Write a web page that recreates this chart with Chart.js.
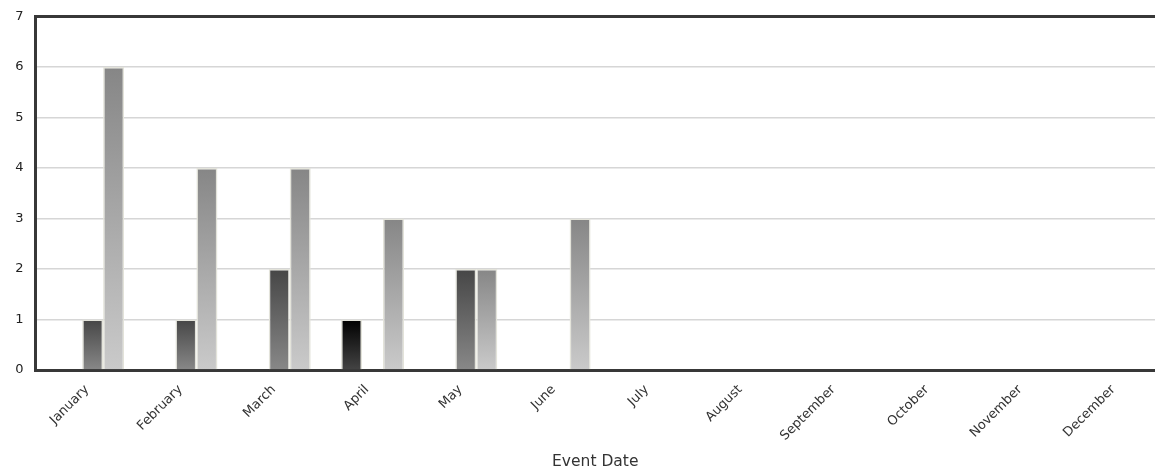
<!DOCTYPE html>
<html>
<head>
<meta charset="utf-8">
<script src="https://cdn.jsdelivr.net/npm/chart.js@4.4.1/dist/chart.umd.min.js"></script>
<style>
  html, body { margin: 0; padding: 0; background: #ffffff; overflow: hidden; }
  #wrap { position: relative; width: 1155px; height: 467px; }
</style>
</head>
<body>
<div id="wrap"><canvas id="c"></canvas></div>
<script>
// ---- data ----
const months = ['January','February','March','April','May','June','July','August','September','October','November','December'];
const seriesEmpty = [0,0,0,0,0,0,0,0,0,0,0,0];
const seriesBlack = [0,0,0,1,0,0,0,0,0,0,0,0];
const seriesDark  = [1,1,2,0,2,0,0,0,0,0,0,0];
const seriesLight = [6,4,4,3,2,3,0,0,0,0,0,0];
const yTicks = [0,1,2,3,4,5,6,7];
const xTitle = 'Event Date';

function gradientFill(topColor, bottomColor) {
  return function(ctx) {
    if (ctx.type !== 'data') return topColor;
    const chart = ctx.chart;
    if (!chart.chartArea) return topColor;
    const y = chart.scales.y;
    const top = y.getPixelForValue(ctx.raw);
    const bottom = y.getPixelForValue(0);
    if (!isFinite(top) || Math.abs(bottom - top) < 1) return topColor;
    const g = chart.ctx.createLinearGradient(0, top, 0, bottom);
    g.addColorStop(0, topColor);
    g.addColorStop(1, bottomColor);
    return g;
  };
}

const halo = '#e3e3da';
const font = { family: 'DejaVu Sans', size: 13 };

new Chart(document.getElementById('c'), {
  type: 'bar',
  data: {
    labels: months,
    datasets: [
      { label: 'Series 1', data: seriesEmpty, backgroundColor: '#999999', borderColor: halo, borderWidth: 0 },
      { label: 'Series 2', data: seriesBlack, backgroundColor: gradientFill('#000000', '#444444'), borderColor: halo, borderWidth: 1.5 },
      { label: 'Series 3', data: seriesDark,  backgroundColor: gradientFill('#464646', '#888888'), borderColor: halo, borderWidth: 1.5 },
      { label: 'Series 4', data: seriesLight, backgroundColor: gradientFill('#868686', '#cacaca'), borderColor: halo, borderWidth: 1.5 }
    ]
  },
  options: {
    responsive: true,
    maintainAspectRatio: false,
    animation: false,
    devicePixelRatio: 1,
    layout: { padding: { top: 16.5, right: 0, bottom: 0, left: 0 } },
    datasets: { bar: { categoryPercentage: 0.9, barPercentage: 1.0, borderSkipped: 'start' } },
    plugins: { legend: { display: false }, tooltip: { enabled: false }, title: { display: false } },
    scales: {
      x: {
        z: 1,
        grid: { display: false, drawTicks: false },
        border: { display: true, color: '#383838', width: 3 },
        ticks: { font: font, color: '#333333', minRotation: 45, maxRotation: 45, autoSkip: false, padding: 12, labelOffset: 5 },
        title: { display: true, text: xTitle, font: { family: 'DejaVu Sans', size: 15.5, lineHeight: 0.7 }, color: '#333333', padding: 0 },
        afterFit: function(scale) { scale.height = 97; scale.paddingLeft = 0; scale.paddingRight = 0; }
      },
      y: {
        min: 0,
        max: 7,
        afterBuildTicks: function(scale) { scale.ticks = yTicks.map(v => ({ value: v })); },
        grid: {
          drawTicks: false,
          color: ctx => (ctx.tick && ctx.tick.value === 7) ? '#383838' : '#d6d6d6',
          lineWidth: ctx => (ctx.tick && ctx.tick.value === 7) ? 3 : 1.5
        },
        border: { display: true, color: '#383838', width: 3 },
        ticks: { font: font, color: '#222222', padding: 12 },
        afterFit: function(scale) { scale.width = 35.5; scale.paddingTop = 0; scale.paddingBottom = 0; }
      }
    }
  }
});
</script>
</body>
</html>
